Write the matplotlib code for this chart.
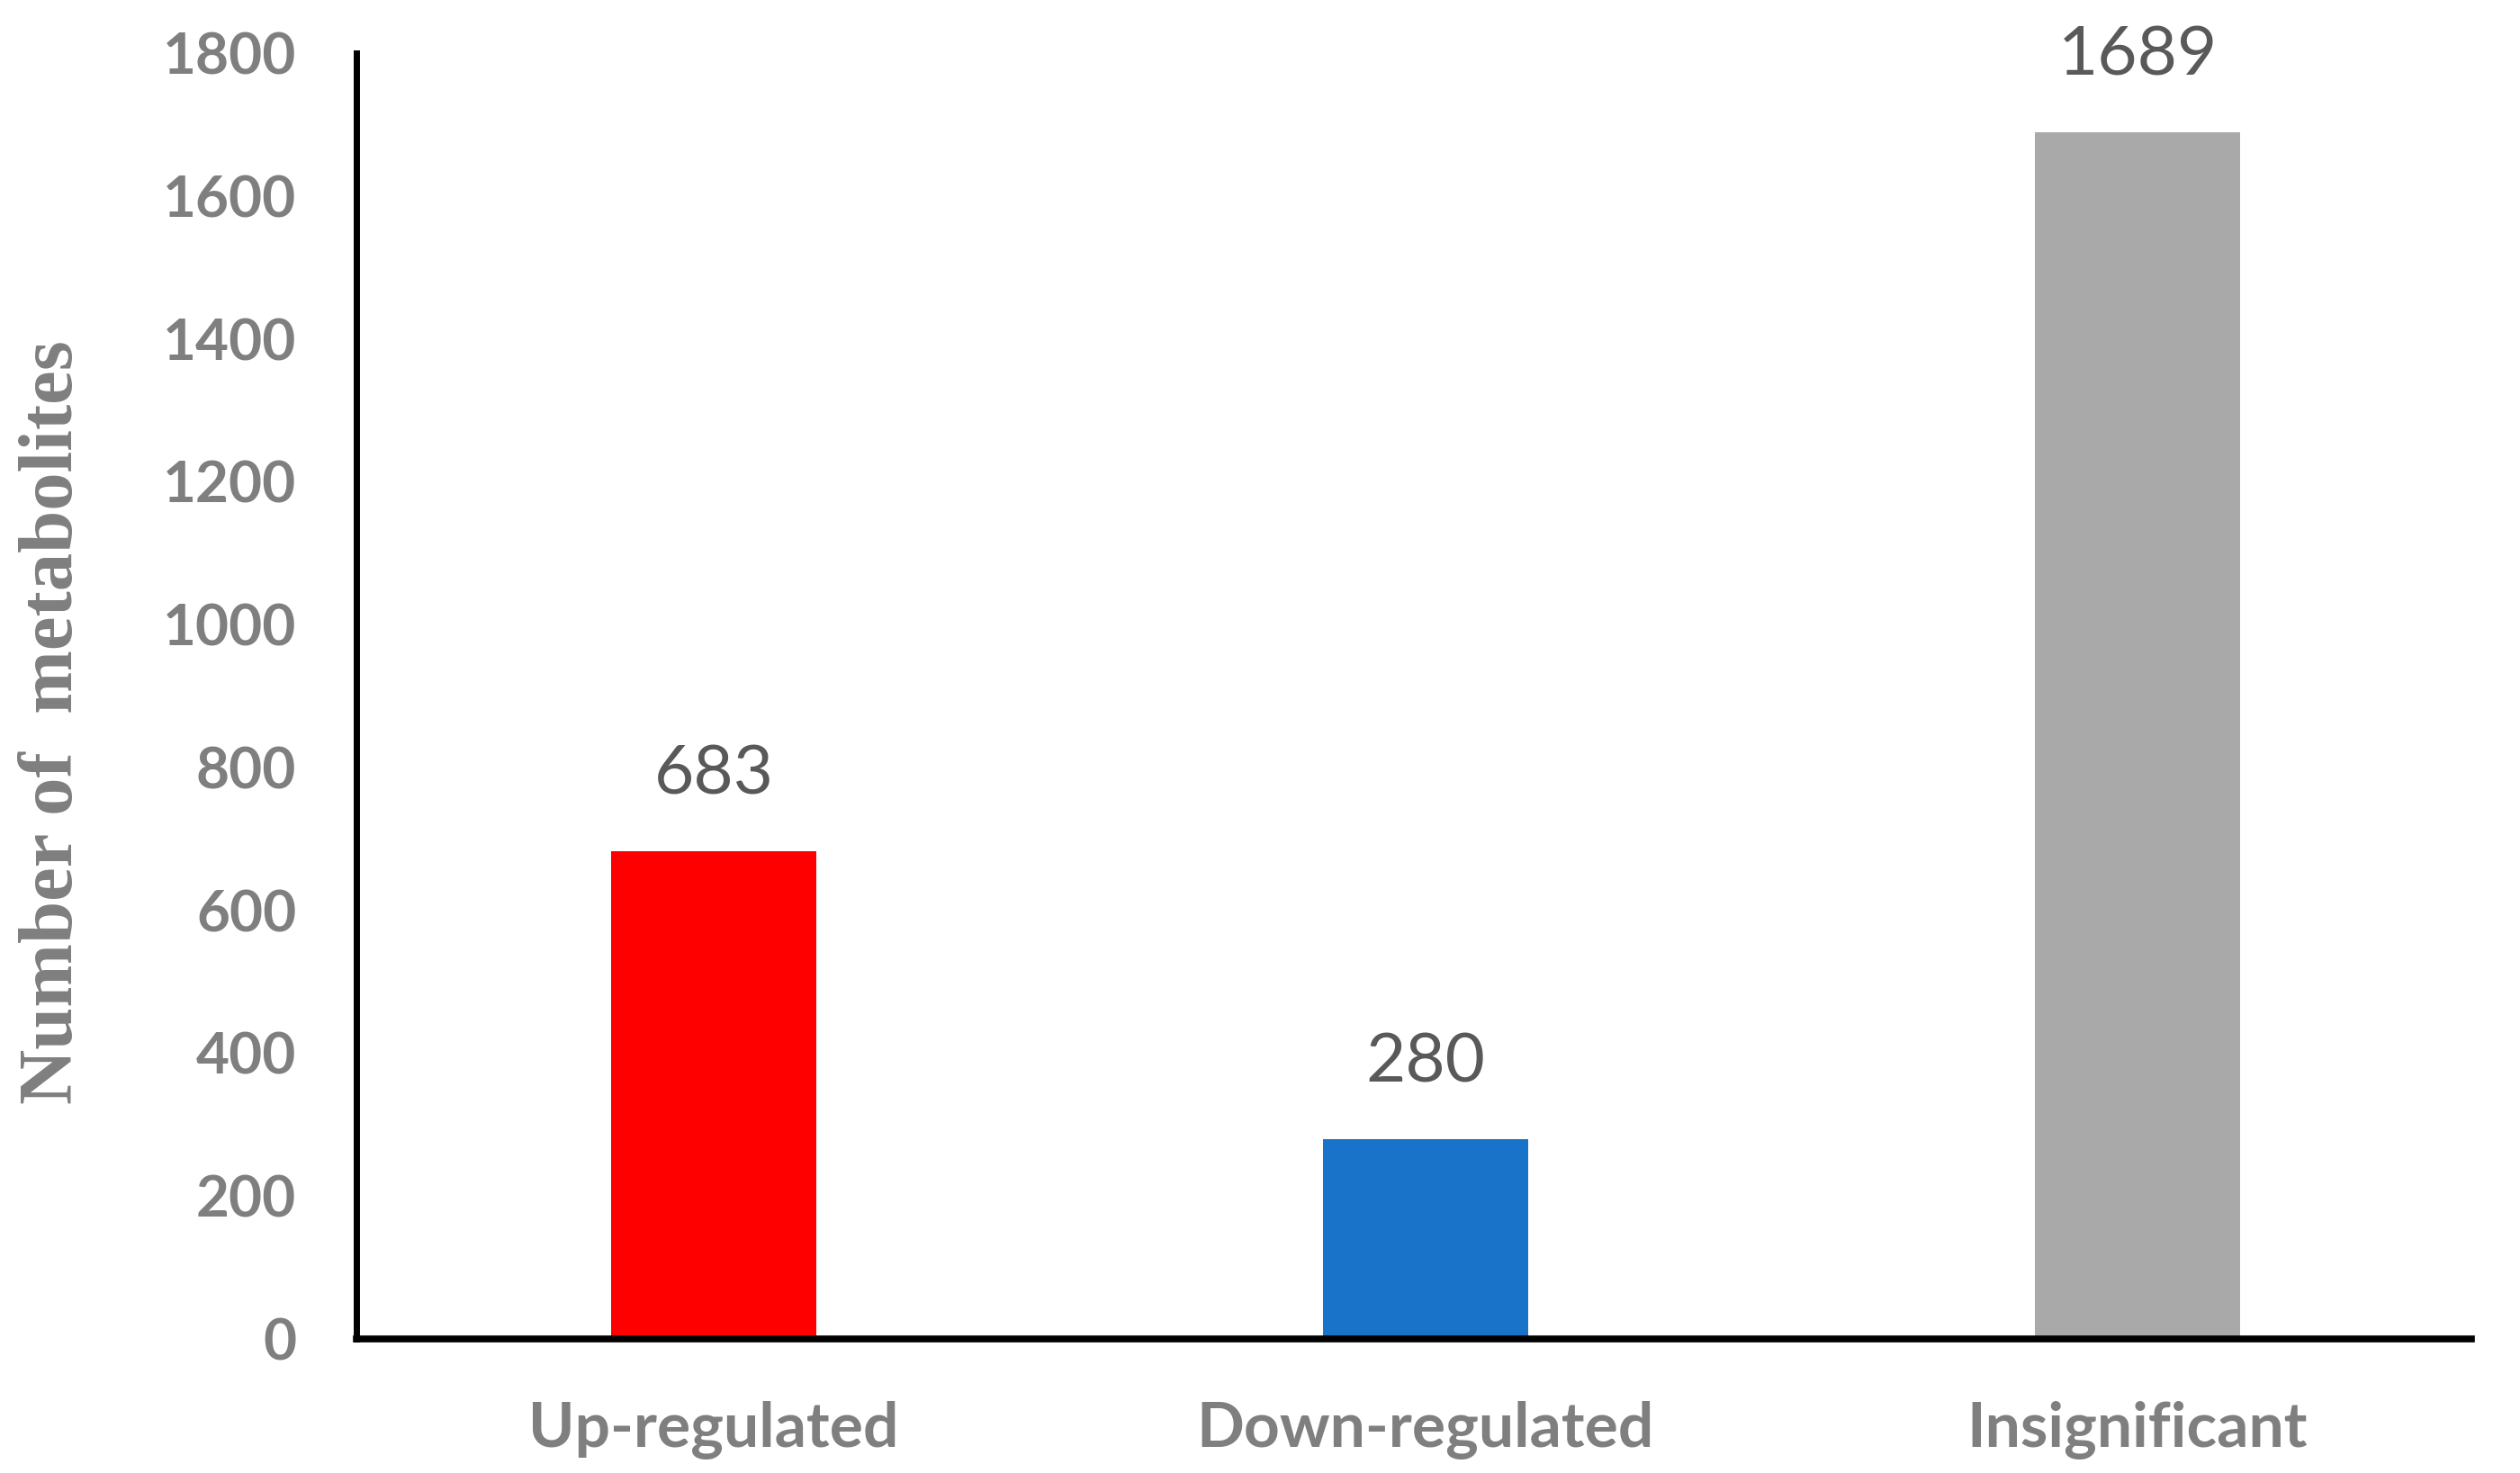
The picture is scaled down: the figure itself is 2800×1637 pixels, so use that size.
import matplotlib
matplotlib.use("Agg")
import matplotlib.pyplot as plt

categories = ["Up-regulated", "Down-regulated", "Insignificant"]
values = [683, 280, 1689]
colors = ["#FF0000", "#1873C9", "#A9A9A9"]
yticks = [0, 200, 400, 600, 800, 1000, 1200, 1400, 1600, 1800]

DPI = 100
fig = plt.figure(figsize=(28, 16.37), dpi=DPI)
ax = fig.add_axes([396/2800, 149/1637, (2746-396)/2800, (1488-59)/1637])

x = list(range(len(categories)))
bars = ax.bar(x, values, width=0.288, color=colors, zorder=2)
ax.set_xlim(-0.502, 2.469)
ax.set_ylim(0, 1800)

for xi, v in zip(x, values):
    ax.annotate(str(v), (xi, v), xytext=(0, 85*72/DPI), textcoords="offset points",
                ha="center", va="center", fontsize=55, color="#595959", family="Lato")

ax.set_xticks(x)
ax.set_xticklabels(categories, fontsize=50, fontweight="bold", color="#7F7F7F", family="Lato")
ax.set_yticks(yticks)
ax.set_yticklabels([str(t) for t in yticks], fontsize=46, fontweight="bold", color="#7F7F7F", family="Lato")
ax.tick_params(axis="y", length=0, pad=48)
ax.tick_params(axis="x", length=0, pad=50)

for s in ["top", "right"]:
    ax.spines[s].set_visible(False)
ax.spines["left"].set_linewidth(5)
ax.spines["bottom"].set_linewidth(5.5)
ax.spines["left"].set_color("black")
ax.spines["bottom"].set_color("black")

ax.set_ylabel("Number of  metabolites", fontsize=61, fontweight="bold", color="#7F7F7F",
              family="Liberation Serif")
ax.yaxis.set_label_coords(-0.127, 0.48)

fig.savefig("out.png", dpi=DPI, facecolor="white")
